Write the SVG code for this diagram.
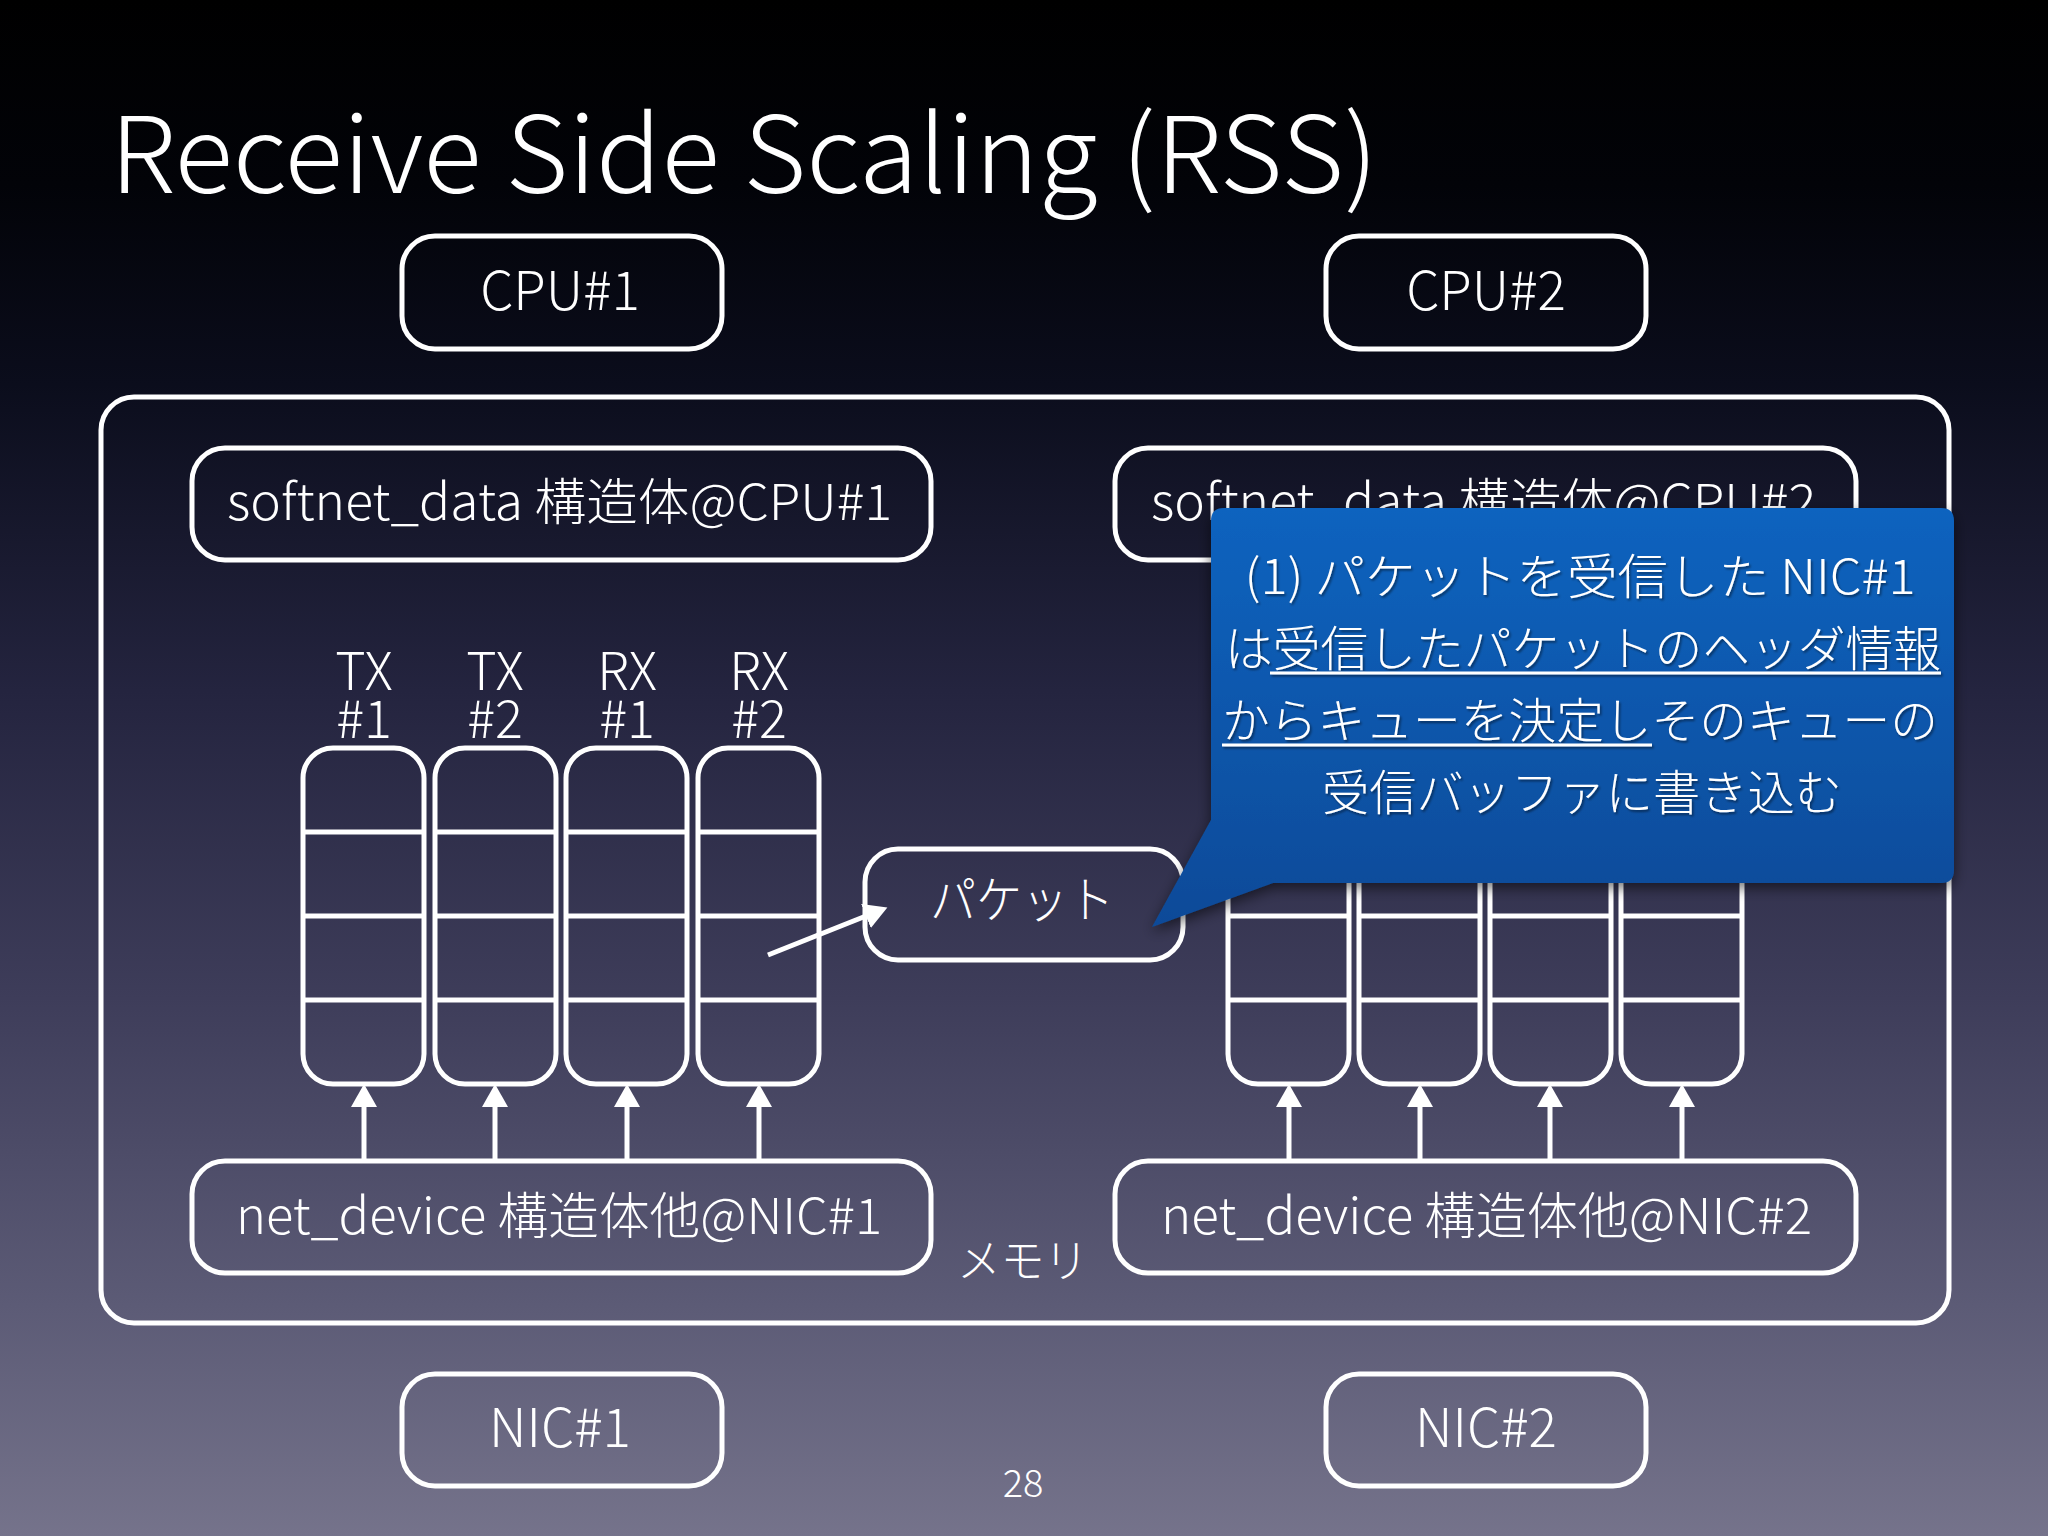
<svg xmlns="http://www.w3.org/2000/svg" width="2048" height="1536" viewBox="0 0 2048 1536">
<defs>
<linearGradient id="bg" x1="0" y1="0" x2="0" y2="1">
<stop offset="0" stop-color="#000000"/>
<stop offset="0.12" stop-color="#020308"/>
<stop offset="0.25" stop-color="#0b0d1c"/>
<stop offset="0.45" stop-color="#24243f"/>
<stop offset="0.65" stop-color="#3e3d5a"/>
<stop offset="0.85" stop-color="#5c5b76"/>
<stop offset="1" stop-color="#75738b"/>
</linearGradient>
<linearGradient id="blue" x1="0" y1="0" x2="0" y2="1">
<stop offset="0" stop-color="#0f63bf"/>
<stop offset="1" stop-color="#0b4a98"/>
</linearGradient>
<filter id="shadow" x="-10%" y="-10%" width="120%" height="130%">
<feDropShadow dx="0" dy="5" stdDeviation="7" flood-color="#000" flood-opacity="0.55"/>
</filter>
<filter id="tshadow" x="-5%" y="-20%" width="110%" height="150%">
<feDropShadow dx="1.5" dy="2" stdDeviation="1.2" flood-color="#000" flood-opacity="0.45"/>
</filter>
<marker id="ah" markerUnits="userSpaceOnUse" markerWidth="24" markerHeight="26" refX="0" refY="13" orient="auto" viewBox="0 0 24 26">
<path d="M0,0 L23,13 L0,26 Z" fill="#fff"/>
</marker>
<style>
.box{fill:none;stroke:#fff;stroke-width:5}
.q{fill:none;stroke:#fff;stroke-width:5}
.t{font-family:"Noto Sans CJK JP","Noto Sans",sans-serif;font-weight:300;fill:#fff}
.c{text-anchor:middle}
.lbl{font-size:52px}
.conn{stroke:#fff;stroke-width:5;fill:none}
</style>
</defs>
<rect x="0" y="0" width="2048" height="1536" fill="url(#bg)"/>
<text class="t" x="110" y="193" font-size="106" textLength="1268" lengthAdjust="spacingAndGlyphs">Receive Side Scaling (RSS)</text>

<g id="cpu1"><rect class="box" x="402" y="236" width="320" height="113" rx="33"/><text class="t c" x="560" y="310" font-size="53">CPU#1</text></g>
<g id="cpu2"><rect class="box" x="1326" y="236" width="320" height="113" rx="33"/><text class="t c" x="1486" y="310" font-size="53">CPU#2</text></g>

<g id="memory"><rect class="box" x="101" y="397" width="1848" height="926" rx="33"/><text class="t" x="957" y="1277" font-size="46" textLength="131" lengthAdjust="spacingAndGlyphs">メモリ</text></g>

<g id="softnet1"><rect class="box" x="192" y="448" width="739" height="112" rx="33"/><text class="t" x="227" y="520" font-size="50" textLength="665" lengthAdjust="spacingAndGlyphs">softnet_data 構造体@CPU#1</text></g>
<g id="softnet2"><rect class="box" x="1115" y="448" width="741" height="112" rx="33"/><text class="t" x="1151" y="520" font-size="50" textLength="665" lengthAdjust="spacingAndGlyphs">softnet_data 構造体@CPU#2</text></g>

<g id="queues1">
<g id="tx1"><text class="t c lbl"><tspan x="364" y="690">TX</tspan><tspan x="364" y="738">#1</tspan></text><rect class="q" x="303" y="748" width="121" height="336" rx="30"/><path class="q" d="M303,832 H424 M303,916 H424 M303,1000 H424"/></g>
<g id="tx2"><text class="t c lbl"><tspan x="495" y="690">TX</tspan><tspan x="495" y="738">#2</tspan></text><rect class="q" x="435" y="748" width="121" height="336" rx="30"/><path class="q" d="M435,832 H556 M435,916 H556 M435,1000 H556"/></g>
<g id="rx1"><text class="t c lbl"><tspan x="627" y="690">RX</tspan><tspan x="627" y="738">#1</tspan></text><rect class="q" x="566" y="748" width="121" height="336" rx="30"/><path class="q" d="M566,832 H687 M566,916 H687 M566,1000 H687"/></g>
<g id="rx2"><text class="t c lbl"><tspan x="759" y="690">RX</tspan><tspan x="759" y="738">#2</tspan></text><rect class="q" x="698" y="748" width="121" height="336" rx="30"/><path class="q" d="M698,832 H819 M698,916 H819 M698,1000 H819"/></g>
</g>

<g id="queues2">
<g id="q2a"><rect class="q" x="1228" y="748" width="121" height="336" rx="30"/><path class="q" d="M1228,832 H1349 M1228,916 H1349 M1228,1000 H1349"/></g>
<g id="q2b"><rect class="q" x="1359" y="748" width="121" height="336" rx="30"/><path class="q" d="M1359,832 H1480 M1359,916 H1480 M1359,1000 H1480"/></g>
<g id="q2c"><rect class="q" x="1490" y="748" width="121" height="336" rx="30"/><path class="q" d="M1490,832 H1611 M1490,916 H1611 M1490,1000 H1611"/></g>
<g id="q2d"><rect class="q" x="1621" y="748" width="121" height="336" rx="30"/><path class="q" d="M1621,832 H1742 M1621,916 H1742 M1621,1000 H1742"/></g>
</g>

<g id="netdev1"><rect class="box" x="192" y="1161" width="739" height="112" rx="33"/><text class="t" x="236" y="1234" font-size="50" textLength="646" lengthAdjust="spacingAndGlyphs">net_device 構造体他@NIC#1</text></g>
<g id="netdev2"><rect class="box" x="1115" y="1161" width="741" height="112" rx="33"/><text class="t" x="1161" y="1234" font-size="50" textLength="651" lengthAdjust="spacingAndGlyphs">net_device 構造体他@NIC#2</text></g>

<g id="packet"><rect class="box" x="865" y="849" width="318" height="111" rx="33"/><text class="t" x="930" y="918" font-size="50" textLength="184" lengthAdjust="spacingAndGlyphs">パケット</text></g>

<g id="nic1"><rect class="box" x="402" y="1374" width="320" height="112" rx="33"/><text class="t c" x="560" y="1447" font-size="53">NIC#1</text></g>
<g id="nic2"><rect class="box" x="1326" y="1374" width="320" height="112" rx="33"/><text class="t c" x="1486" y="1447" font-size="53">NIC#2</text></g>

<g id="connectors">
<line class="conn" x1="364" y1="1161" x2="364" y2="1107" marker-end="url(#ah)"/>
<line class="conn" x1="495" y1="1161" x2="495" y2="1107" marker-end="url(#ah)"/>
<line class="conn" x1="627" y1="1161" x2="627" y2="1107" marker-end="url(#ah)"/>
<line class="conn" x1="759" y1="1161" x2="759" y2="1107" marker-end="url(#ah)"/>
<line class="conn" x1="1289" y1="1161" x2="1289" y2="1107" marker-end="url(#ah)"/>
<line class="conn" x1="1420" y1="1161" x2="1420" y2="1107" marker-end="url(#ah)"/>
<line class="conn" x1="1550" y1="1161" x2="1550" y2="1107" marker-end="url(#ah)"/>
<line class="conn" x1="1682" y1="1161" x2="1682" y2="1107" marker-end="url(#ah)"/>
<line class="conn" x1="768" y1="955" x2="866" y2="916" marker-end="url(#ah)"/>
</g>

<g id="callout">
<path d="M1224,508 H1941 Q1954,508 1954,521 V870 Q1954,883 1941,883 H1273 L1152,927 L1211,820 V521 Q1211,508 1224,508 Z" fill="url(#blue)" filter="url(#shadow)"/>
<g filter="url(#tshadow)">
<text class="t c" x="1580" y="594" font-size="48" textLength="671" lengthAdjust="spacingAndGlyphs">(1) パケットを受信した NIC#1</text>
<text class="t c" x="1583" y="666" font-size="48" textLength="716" lengthAdjust="spacingAndGlyphs">は受信したパケットのヘッダ情報</text>
<text class="t c" x="1580" y="738" font-size="48" textLength="716" lengthAdjust="spacingAndGlyphs">からキューを決定しそのキューの</text>
<text class="t c" x="1582" y="810" font-size="48" textLength="520" lengthAdjust="spacingAndGlyphs">受信バッファに書き込む</text>
<path d="M1270,673 H1941 M1222,745 H1652" stroke="#fff" stroke-width="3"/>
</g>
</g>

<text class="t c" x="1023" y="1497" font-size="38">28</text>
</svg>
